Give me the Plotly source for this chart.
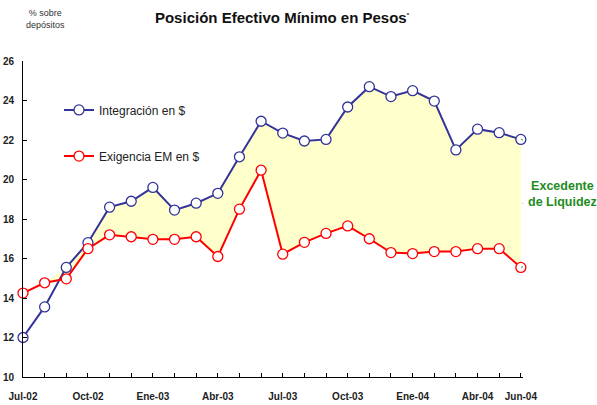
import plotly.graph_objects as go

months = ["Jul-02","Ago-02","Sep-02","Oct-02","Nov-02","Dic-02","Ene-03","Feb-03","Mar-03","Abr-03",
          "May-03","Jun-03","Jul-03","Ago-03","Sep-03","Oct-03","Nov-03","Dic-03","Ene-04","Feb-04",
          "Mar-04","Abr-04","May-04","Jun-04"]
integracion = [12.0, 13.55, 15.55, 16.8, 18.6, 18.9, 19.6, 18.45, 18.8, 19.3,
               21.15, 22.95, 22.35, 21.95, 22.03, 23.67, 24.7, 24.2, 24.5, 23.97,
               21.5, 22.55, 22.37, 22.03]
exigencia = [14.25, 14.77, 14.97, 16.5, 17.2, 17.1, 16.97, 16.97, 17.1, 16.1,
             18.5, 20.47, 16.22, 16.82, 17.27, 17.65, 17.0, 16.3, 16.25, 16.35,
             16.35, 16.5, 16.5, 15.55]
tick_labels = ["Jul-02", "Oct-02", "Ene-03", "Abr-03", "Jul-03", "Oct-03", "Ene-04", "Abr-04", "Jun-04"]
tick_months = ["Jul-02", "Oct-02", "Ene-03", "Abr-03", "Jul-03", "Oct-03", "Ene-04", "Abr-04", "Jun-04"]

x = list(range(len(months)))
upper = [max(a, b) for a, b in zip(integracion, exigencia)]

BLUE = "#333399"
RED = "#FF0000"
GREEN = "#1E8C1E"
FONT = "Liberation Sans"

fig = go.Figure()
fig.add_trace(go.Scatter(x=x, y=exigencia, mode="lines", line=dict(width=0),
                         showlegend=False, hoverinfo="skip"))
fig.add_trace(go.Scatter(x=x, y=upper, mode="lines", line=dict(width=0),
                         fill="tonexty", fillcolor="#FFFFCC",
                         showlegend=False, hoverinfo="skip"))
fig.add_trace(go.Scatter(x=x, y=integracion, mode="lines+markers", name="Integración en $",
                         line=dict(color=BLUE, width=2),
                         marker=dict(symbol="circle", size=10, color="white",
                                     line=dict(color=BLUE, width=1.3)),
                         cliponaxis=False, legend="legend"))
fig.add_trace(go.Scatter(x=x, y=exigencia, mode="lines+markers", name="Exigencia EM en $",
                         line=dict(color=RED, width=2),
                         marker=dict(symbol="circle", size=10, color="white",
                                     line=dict(color=RED, width=1.3)),
                         cliponaxis=False, legend="legend2"))

# brace next to the last point
xl = x[-1]
top = integracion[-1]
bot = exigencia[-1]
mid = (top + bot) / 2
xb = xl + 0.17
path = (f"M {xl+0.02},{top} Q {xb},{top} {xb},{top-0.35} "
        f"L {xb},{mid+0.25} Q {xb},{mid} {xb-0.08},{mid} "
        f"Q {xb},{mid} {xb},{mid-0.25} "
        f"L {xb},{bot+0.35} Q {xb},{bot} {xl+0.02},{bot}")
fig.add_shape(type="path", path=path, xref="x", yref="y",
              line=dict(color=GREEN, width=1))

fig.update_xaxes(range=[0, 23.1], tickmode="array", tickvals=x,
                 ticktext=[tick_labels[tick_months.index(m)] if m in tick_months else "" for m in months],
                 ticks="inside", ticklen=4, tickcolor="black", tickwidth=1,
                 showline=True, linecolor="black", linewidth=1, showgrid=False, zeroline=False,
                 tickfont=dict(family=FONT, size=10, color="#222222", weight="bold"),
                 ticklabelstandoff=10, automargin=False)
fig.update_yaxes(range=[10, 26], dtick=2, ticks="inside", ticklen=4, tickcolor="black",
                 showline=True, linecolor="black", linewidth=1, showgrid=False, zeroline=False,
                 tickfont=dict(family=FONT, size=10, color="#222222", weight="bold"),
                 ticklabelstandoff=6, automargin=False)

fig.update_layout(
    width=597, height=405,
    margin=dict(l=23, r=74, t=61, b=28, autoexpand=False),
    paper_bgcolor="white", plot_bgcolor="white",
    title=dict(text="Posición Efectivo Mínimo en Pesos<sup><span style='font-size:6px'>*</span></sup>",
               x=282/597, xanchor="center", y=1 - 18/405, yanchor="middle",
               font=dict(family=FONT, size=15, color="#111111", weight="bold"), automargin=False),
    legend=dict(x=0.072, y=0.891, xanchor="left", yanchor="top", bgcolor="rgba(0,0,0,0)",
                font=dict(family=FONT, size=12, color="#222222")),
    legend2=dict(x=0.072, y=0.745, xanchor="left", yanchor="top", bgcolor="rgba(0,0,0,0)",
                 font=dict(family=FONT, size=12, color="#222222")),
    annotations=[
        dict(text="% sobre<br>depósitos", xref="paper", yref="paper",
             x=(45 - 23) / 500, y=1 + (61 - 19) / 316, xanchor="center", yanchor="middle",
             showarrow=False, font=dict(family=FONT, size=9, color="#333333")),
        dict(text="Excedente<br>de Liquidez", xref="paper", yref="paper",
             x=(562 - 23) / 500, y=(377 - 194) / 316, xanchor="center", yanchor="middle",
             showarrow=False, font=dict(family=FONT, size=12.5, color=GREEN, weight="bold")),
    ],
    showlegend=True,
)

fig.write_html("out.html", config={"displayModeBar": False},
               post_script="document.body.style.margin='0';document.body.style.padding='0';")
